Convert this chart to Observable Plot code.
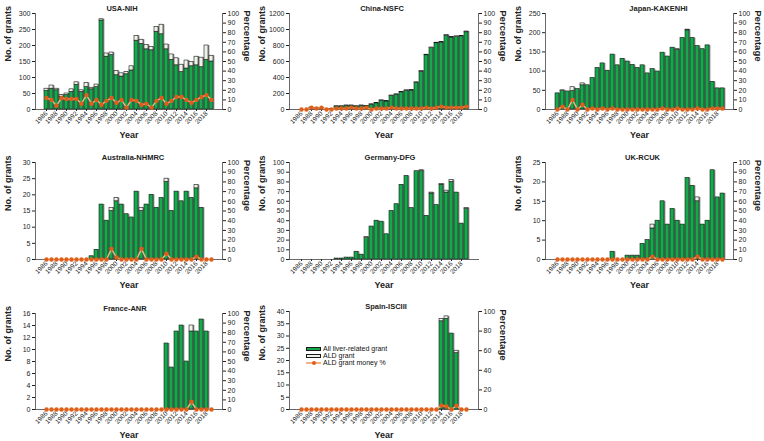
<!DOCTYPE html>
<html><head><meta charset="utf-8">
<script src="https://cdn.jsdelivr.net/npm/d3@7"></script>
<script src="https://cdn.jsdelivr.net/npm/@observablehq/plot@0.6"></script>
<style>
body{margin:0;background:#fff;font-family:"Liberation Sans",Arial,sans-serif;}
#root{position:relative;width:764px;height:441px;overflow:hidden;background:#fff}
.panel{position:absolute}
.panel svg{position:absolute;left:0;top:0;overflow:visible;background:transparent}
.lg{position:absolute;font-size:7px;color:#111;white-space:nowrap;line-height:7px}
.sw{position:absolute;box-sizing:border-box}
</style></head><body><div id="root"></div>
<script>
const years = d3.range(1986, 2020);
const yearTicks = years.filter(y => (y - 1986) % 2 === 0);
const seriesNames = ["All liver-related grant", "ALD grant", "ALD grant money %"];

// USA-NIH
const usaLiver = [58,65,60,40,45,55,77,55,70,63,70,278,165,170,107,103,110,122,215,205,188,185,243,235,188,155,138,117,128,135,138,132,155,150];
const usaAld   = [7,10,5,5,5,8,8,5,13,5,8,4,10,8,13,10,7,13,15,13,14,10,15,30,15,17,22,23,25,13,27,30,45,18];
const usaPct   = [12,10,4,12,11,11,11,6,15,6,10,5,9,12,7,10,2,10,9,5,6,2,9,12,6,9,13,13,10,7,10,13,15,10];
// China-NSFC
const chinaLiver = [0,0,23,14,19,5,5,38,38,48,48,38,48,43,62,77,110,100,170,185,215,235,237,335,472,678,768,828,838,920,900,905,915,965];
const chinaAld   = [0,0,2,1,1,0,0,2,2,2,2,2,2,2,3,3,5,5,5,5,5,5,8,5,8,7,7,7,7,10,5,10,5,10];
const chinaPct   = [0,0,2,1,2,0,0,1,1,1,2,1,1,2,0,1,1,1,2,1,1,1,1,1,1,2,1,2,3,2,2,2,2,3];
// Japan-KAKENHI
const japanLiver = [42,48,47,48,53,63,63,82,108,120,101,143,115,132,125,116,108,115,94,105,99,148,138,161,155,186,206,186,165,157,167,72,55,55];
const japanAld   = [0,2,0,10,0,5,0,0,0,0,0,0,0,0,0,0,0,0,0,0,0,0,0,0,2,0,2,0,0,0,0,0,0,0];
const japanPct   = [0,3,0,10,0,5,0,1,0,1,0,1,0,0,0,0,0,0,0,0,0,1,0,0,1,0,0,0,1,0,0,1,1,1];
// Australia-NHMRC
const ausLiver = [0,0,0,0,0,0,0,0,0,1,3,17,12,15,18,17,14,13,21,15,17,20,16,19,24,15,21,18,21,19,22,16,0,0];
const ausAld   = [0,0,0,0,0,0,0,0,0,0,0,0,0,1,1,0,0,0,0,1,0,0,0,0,1,0,0,0,0,0,1,0,0,0];
const ausPct   = [0,0,0,0,0,0,0,0,0,0,0,0,0,11,2,0,0,0,0,11,0,0,0,0,6,0,0,0,0,0,3,0,0,0];
// Germany-DFG
const gerLiver = [0,0,0,0,0,0,0,1,1,2,2,8,5,22,34,40,39,26,50,57,77,86,53,91,91,45,68,56,77,69,80,69,37,52];
const gerAld   = [0,0,0,0,0,0,0,0,0,0,0,0,0,1,0,0,0,0,0,0,0,0,0,0,1,0,1,0,1,2,2,0,0,1];
// UK-RCUK
const ukLiver = [0,0,0,0,0,0,0,0,0,0,0,2,0,0,1,1,1,4,5,8,10,15,9,13,10,9,21,19,15,9,10,23,16,17];
const ukAld   = [0,0,0,0,0,0,0,0,0,0,0,0,0,0,0,0,0,0,0,1,0,0,0,0,0,0,0,0,1,0,0,0,0,0];
const ukPct   = [0,0,0,0,0,0,0,0,0,0,0,0,0,0,0,0,0,0,0,3,0,0,0,0,0,0,0,0,3,0,0,0,0,0];
// France-ANR
const frLiver = [0,0,0,0,0,0,0,0,0,0,0,0,0,0,0,0,0,0,0,0,0,0,0,0,11,7,13,14,8,13,13,15,13,0];
const frAld   = [0,0,0,0,0,0,0,0,0,0,0,0,0,0,0,0,0,0,0,0,0,0,0,0,0,0,0,0,0,1,0,0,0,0];
const frPct   = [0,0,0,0,0,0,0,0,0,0,0,0,0,0,0,0,0,0,0,0,0,0,0,0,0,0,0,0,0,8,0,0,0,0];
// Spain-ISCIII
const esLiver = [0,0,0,0,0,0,0,0,0,0,0,0,0,0,0,0,0,0,0,0,0,0,0,0,0,0,0,0,36,37,31,23,0,0];
const esAld   = [0,0,0,0,0,0,0,0,0,0,0,0,0,0,0,0,0,0,0,0,0,0,0,0,0,0,0,0,1,1,0,1,0,0];
const esPct   = [0,0,0,0,0,0,0,0,0,0,0,0,0,0,0,0,0,0,0,0,0,0,0,0,0,0,0,0,4,3,0,4,0,0];

const panels = [
  {name:"USA-NIH", liver:usaLiver, ald:usaAld, pct:usaPct, yMax:300, yStep:50, pStep:10, col:0, top:13, bottom:109, tdx:-7},
  {name:"China-NSFC", liver:chinaLiver, ald:chinaAld, pct:chinaPct, yMax:1200, yStep:200, pStep:10, col:1, top:13, bottom:109, tdx:-2},
  {name:"Japan-KAKENHI", liver:japanLiver, ald:japanAld, pct:japanPct, yMax:250, yStep:50, pStep:10, col:2, top:13, bottom:109, tdx:19},
  {name:"Australia-NHMRC", liver:ausLiver, ald:ausAld, pct:ausPct, yMax:30, yStep:5, pStep:10, col:0, top:162, bottom:259, tdx:4},
  {name:"Germany-DFG", liver:gerLiver, ald:gerAld, pct:null, yMax:100, yStep:10, pStep:10, col:1, top:162, bottom:259, tdx:6},
  {name:"UK-RCUK", liver:ukLiver, ald:ukAld, pct:ukPct, yMax:25, yStep:5, pStep:10, col:2, top:162, bottom:259, tdx:3},
  {name:"France-ANR", liver:frLiver, ald:frAld, pct:frPct, yMax:16, yStep:2, pStep:10, col:0, top:313, bottom:409, tdx:-4},
  {name:"Spain-ISCIII", liver:esLiver, ald:esAld, pct:esPct, yMax:40, yStep:5, pStep:20, col:1, top:311, bottom:409, tdx:2}
];

const colLeft = [35, 289, 545], colRight = [222, 478, 733];
const GREEN = "#14a94b", WHITE = "#eef3e8", LINE = "#f4b183", DOT = "#de5f1a";
const root = document.getElementById("root");
const styleBase = {fontFamily:"'Liberation Sans', Arial, sans-serif", fontSize:"7px", color:"#222", background:"transparent", overflow:"visible"};

for (const p of panels) {
  const L = colLeft[p.col], R = colRight[p.col];
  const mL = 40, mR = 32, mT = 14, mB = 34;
  const w = (R - L) + mL + mR, h = (p.bottom - p.top) + mT + mB;
  const div = document.createElement("div");
  div.className = "panel";
  div.style.left = (L - mL) + "px";
  div.style.top = (p.top - mT) + "px";
  div.style.width = w + "px";
  div.style.height = h + "px";
  root.appendChild(div);

  const rows = years.flatMap((y, i) => [
    {year:y, s:"liver", v:p.liver[i]},
    {year:y, s:"ald", v:p.ald[i]}
  ]);
  const totals = years.map((y, i) => ({year:y, v:p.liver[i] + p.ald[i]}));
  const xOpt = {domain:years, paddingInner:0.3, paddingOuter:0.15};

  const bars = Plot.plot({
    width:w, height:h, marginLeft:mL, marginRight:mR, marginTop:mT, marginBottom:mB,
    x:xOpt,
    y:{domain:[0, p.yMax]},
    color:{domain:["liver","ald"], range:[GREEN, WHITE]},
    style:styleBase,
    marks:[
      Plot.barY(totals.filter(d => d.v > 0), {x:"year", y:"v", fill:"#8e8e8e", dx:1.4}),
      Plot.barY(rows.filter(d => d.v > 0), {x:"year", y:"v", fill:"s", stroke:"#1a1a1a", strokeWidth:0.6}),
      Plot.frame({anchor:"left", stroke:"#444", strokeWidth:0.8}),
      Plot.frame({anchor:"bottom", stroke:"#444", strokeWidth:0.8}),
      Plot.axisY({ticks:d3.range(0, p.yMax + p.yStep/2, p.yStep), tickFormat:d => String(d), tickSize:3, tickPadding:2, label:null, fontSize:7}),
      Plot.axisX({ticks:yearTicks, tickFormat:d => String(d), tickRotate:-45, tickSize:2, tickPadding:1, label:null, fontSize:6.5}),
      Plot.text([p.name], {frameAnchor:"top", dy:-8, dx:p.tdx, text:d => d, fontWeight:"bold", fontSize:7.5}),
      Plot.text(["No. of grants"], {frameAnchor:"left", dx:-27, rotate:-90, text:d => d, fontWeight:"bold", fontSize:9}),
      Plot.text(["Year"], {frameAnchor:"bottom", dy:28, text:d => d, fontWeight:"bold", fontSize:9})
    ]
  });
  div.appendChild(bars);

  if (p.pct) {
    const pts = years.map((y, i) => ({year:y, v:p.pct[i]}));
    const over = Plot.plot({
      width:w, height:h, marginLeft:mL, marginRight:mR, marginTop:mT, marginBottom:mB,
      x:{...xOpt, axis:null},
      y:{domain:[0, 100]},
      style:styleBase,
      marks:[
        Plot.frame({anchor:"right", stroke:"#444", strokeWidth:0.8}),
        Plot.axisY({anchor:"right", ticks:d3.range(0, 101, p.pStep), tickFormat:d => String(d), tickSize:3, tickPadding:2, label:null, fontSize:7}),
        Plot.line(pts, {x:"year", y:"v", stroke:LINE, strokeWidth:1.5}),
        Plot.dot(pts, {x:"year", y:"v", fill:DOT, r:2.2}),
        Plot.text(["Percentage"], {frameAnchor:"right", dx:25, rotate:90, text:d => d, fontWeight:"bold", fontSize:9.5})
      ]
    });
    div.appendChild(over);
  }
}

// Legend (inside Spain-ISCIII panel)
const legend = [
  {label:seriesNames[0], kind:"bar", fill:GREEN, y:349},
  {label:seriesNames[1], kind:"bar", fill:WHITE, y:356},
  {label:seriesNames[2], kind:"line", fill:DOT, y:363}
];
for (const item of legend) {
  if (item.kind === "bar") {
    const s = document.createElement("div");
    s.className = "sw";
    Object.assign(s.style, {left:"306px", top:(item.y - 2) + "px", width:"15px", height:"4px", background:item.fill, border:"0.7px solid #1a1a1a"});
    root.appendChild(s);
  } else {
    const l = document.createElement("div");
    l.className = "sw";
    Object.assign(l.style, {left:"306px", top:(item.y - 0.75) + "px", width:"15px", height:"1.5px", background:LINE});
    root.appendChild(l);
    const d = document.createElement("div");
    d.className = "sw";
    Object.assign(d.style, {left:"311.5px", top:(item.y - 2) + "px", width:"4px", height:"4px", borderRadius:"50%", background:item.fill});
    root.appendChild(d);
  }
  const t = document.createElement("div");
  t.className = "lg";
  t.textContent = item.label;
  t.style.left = "323px";
  t.style.top = (item.y - 4) + "px";
  root.appendChild(t);
}
</script>
</body></html>
